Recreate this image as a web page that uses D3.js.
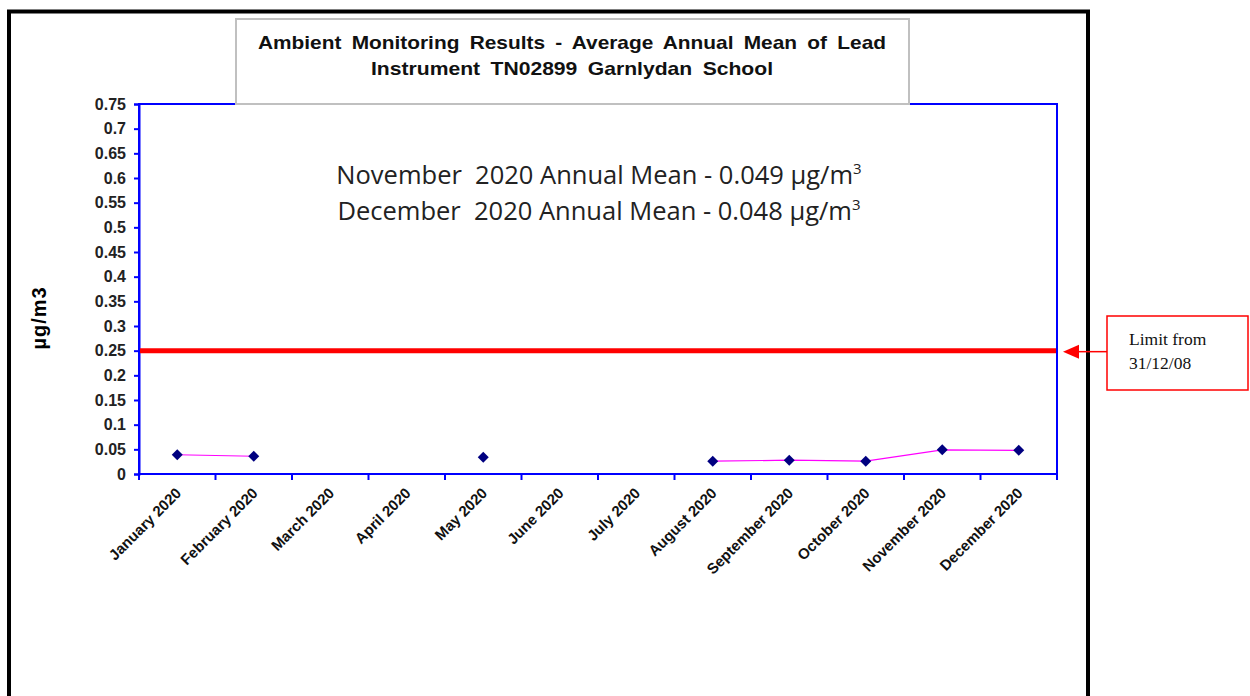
<!DOCTYPE html>
<html>
<head>
<meta charset="utf-8">
<script src="https://cdn.jsdelivr.net/npm/d3@7"></script>
<style>
body { margin:0; background:#fff; }
svg { display:block; }
</style>
</head>
<body>
<svg></svg>
<script>
// monthly lead results, null where no reading
var months = ["January 2020","February 2020","March 2020","April 2020","May 2020","June 2020",
	"July 2020","August 2020","September 2020","October 2020","November 2020","December 2020"];
var leadValues = [0.039, 0.036, null, null, 0.034, null, null, 0.026, 0.028, 0.026, 0.049, 0.048];
var yTicks = [0,0.05,0.1,0.15,0.2,0.25,0.3,0.35,0.4,0.45,0.5,0.55,0.6,0.65,0.7,0.75];
var limitValue = 0.25;
var titleLines = ["Ambient Monitoring Results - Average Annual Mean of Lead",
	"Instrument TN02899 Garnlydan School"];
var noteLines = ["November  2020 Annual Mean - 0.049 µg/m", "December  2020 Annual Mean - 0.048 µg/m"];
var limitLabel = ["Limit from", "31/12/08"];

var svgWidth = 1250, svgHeight = 696;
var plot = {left:139, top:104, right:1057, bottom:474};
var boldFont = "'Liberation Sans', Arial, sans-serif";

var svg = d3.select("svg")
	.attr("width", svgWidth)
	.attr("height", svgHeight);

// outer black frame (bottom runs off the page)
svg.append("path")
	.attr("d", "M9,720 V11.5 H1088 V720")
	.attr("fill","none")
	.attr("stroke","#000")
	.attr("stroke-width",4);

var x = d3.scaleBand()
	.domain(months)
	.range([plot.left, plot.right]);

var y = d3.scaleLinear()
	.domain([0, 0.75])
	.range([plot.bottom, plot.top]);

// plot border
svg.append("rect")
	.attr("x", plot.left).attr("y", plot.top)
	.attr("width", plot.right - plot.left)
	.attr("height", plot.bottom - plot.top)
	.attr("fill","none")
	.attr("stroke","#0000ff")
	.attr("stroke-width",2);

// y axis
var yAxis = svg.append("g")
	.attr("transform","translate(" + plot.left + ",0)")
	.call(d3.axisLeft(y).tickValues(yTicks).tickSize(5).tickPadding(8)
		.tickFormat(function(d){ return String(+d.toFixed(2)); }));
yAxis.select(".domain").attr("stroke","#0000ff").attr("stroke-width",2);
yAxis.selectAll(".tick line").attr("stroke","#0000ff").attr("stroke-width",2);
yAxis.selectAll(".tick text")
	.attr("fill","#222")
	.style("font-family", boldFont)
	.style("font-size","16px")
	.style("font-weight","bold");

// x axis: ticks on category boundaries
var xAxis = svg.append("g")
	.attr("transform","translate(0," + plot.bottom + ")");
xAxis.selectAll("line.bound")
	.data(d3.range(months.length + 1))
	.enter().append("line")
	.attr("x1", function(i){ return plot.left + i * x.bandwidth(); })
	.attr("x2", function(i){ return plot.left + i * x.bandwidth(); })
	.attr("y1", 0).attr("y2", 6)
	.attr("stroke","#0000ff")
	.attr("stroke-width",2);
xAxis.selectAll("text")
	.data(months)
	.enter().append("text")
	.attr("transform", function(d){
		return "translate(" + (x(d) + x.bandwidth()/2 + 5) + ",20) rotate(-45)";
	})
	.attr("text-anchor","end")
	.attr("fill","#111")
	.style("font-family", boldFont)
	.style("font-size","15px")
	.style("font-weight","bold")
	.text(function(d){ return d; });

// y axis title
svg.append("text")
	.attr("transform","translate(46,318) rotate(-90)")
	.attr("text-anchor","middle")
	.style("font-family", boldFont)
	.style("font-size","20px")
	.style("font-weight","bold")
	.style("letter-spacing","1px")
	.text("µg/m3");

// limit line
svg.append("line")
	.attr("x1", plot.left + 1).attr("x2", plot.right - 1)
	.attr("y1", y(limitValue)).attr("y2", y(limitValue))
	.attr("stroke","#ff0000")
	.attr("stroke-width",5);

// data line and markers
var line = d3.line()
	.defined(function(d){ return d != null; })
	.x(function(d,i){ return x(months[i]) + x.bandwidth()/2; })
	.y(function(d){ return y(d); });

svg.append("path")
	.datum(leadValues)
	.attr("fill","none")
	.attr("stroke","#ff00ff")
	.attr("stroke-width",1.2)
	.attr("d", line);

svg.selectAll("path.marker")
	.data(leadValues.map(function(v,i){ return {m:months[i], v:v}; }).filter(function(d){ return d.v != null; }))
	.enter().append("path")
	.attr("class","marker")
	.attr("transform", function(d){ return "translate(" + (x(d.m) + x.bandwidth()/2) + "," + y(d.v) + ")"; })
	.attr("d","M0,-5.5 L5.5,0 L0,5.5 L-5.5,0 Z")
	.attr("fill","#000080");

// title box
svg.append("rect")
	.attr("x",236).attr("y",19)
	.attr("width",673).attr("height",85)
	.attr("fill","#fff")
	.attr("stroke","#c0c0c0")
	.attr("stroke-width",2);
var titleWidths = [628, 402];
svg.selectAll("text.title")
	.data(titleLines)
	.enter().append("text")
	.attr("class","title")
	.attr("x",572)
	.attr("y", function(d,i){ return 49 + i*26; })
	.attr("text-anchor","middle")
	.attr("textLength", function(d,i){ return titleWidths[i]; })
	.attr("lengthAdjust","spacingAndGlyphs")
	.attr("fill","#111")
	.style("font-family", boldFont)
	.style("font-size","18.5px")
	.style("font-weight","bold")
	.style("word-spacing","4px")
	.text(function(d){ return d; });

// annual mean note
var note = svg.selectAll("text.note")
	.data(noteLines)
	.enter().append("text")
	.attr("class","note")
	.attr("x",599)
	.attr("y", function(d,i){ return 184 + i*36; })
	.attr("text-anchor","middle")
	.attr("fill","#222")
	.style("font-family","'Open Sans', 'Noto Sans', sans-serif")
	.style("font-size","25.5px")
	.style("white-space","pre");
note.append("tspan").text(function(d){ return d; });
note.append("tspan")
	.attr("dy",-10)
	.style("font-size","15px")
	.text("3");

// limit callout
svg.append("rect")
	.attr("x",1107).attr("y",316)
	.attr("width",141).attr("height",74)
	.attr("fill","#fff")
	.attr("stroke","#ff0000")
	.attr("stroke-width",1.5);
svg.selectAll("text.limit")
	.data(limitLabel)
	.enter().append("text")
	.attr("class","limit")
	.attr("x",1129)
	.attr("y", function(d,i){ return 345 + i*24; })
	.style("font-family","'Liberation Serif', 'Times New Roman', serif")
	.style("font-size","17.5px")
	.attr("fill","#111")
	.text(function(d){ return d; });
svg.append("line")
	.attr("x1",1107).attr("x2",1075)
	.attr("y1",y(limitValue) + 1).attr("y2",y(limitValue) + 1)
	.attr("stroke","#ff0000")
	.attr("stroke-width",1.5);
svg.append("path")
	.attr("d","M1063," + (y(limitValue) + 1) + " L1079," + (y(limitValue) - 6) + " L1079," + (y(limitValue) + 8) + " Z")
	.attr("fill","#ff0000");
</script>
</body>
</html>
